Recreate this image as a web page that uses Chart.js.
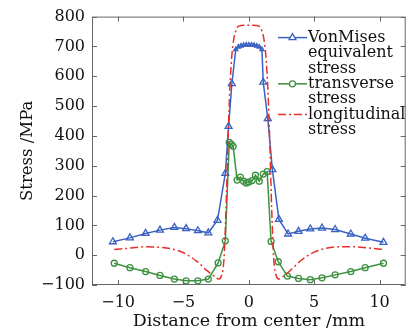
<!DOCTYPE html>
<html>
<head>
<meta charset="utf-8">
<script src="https://cdn.jsdelivr.net/npm/chart.js@4"></script>
<style>
  html, body { margin: 0; padding: 0; background: #fff; }
  #wrap { width: 411px; height: 334px; position: relative; }
</style>
</head>
<body>
<div id="wrap"><canvas id="stressChart"></canvas></div>
<script>
// values: distance (mm) and stress (MPa)
var vmX = [-10.4, -9.1, -7.9, -6.8, -5.7, -4.8, -3.9, -3.1, -2.4, -1.8, -1.55, -1.3, -1.0, -0.8, -0.6, -0.4, -0.2, 0, 0.2, 0.4, 0.6, 0.8, 1.0, 1.1, 1.45, 1.8, 2.3, 3.0, 3.8, 4.7, 5.6, 6.6, 7.8, 8.9, 10.3];
var vmY = [45, 58, 73, 84, 93, 89, 82, 75, 117, 274, 432, 575, 690, 698, 702, 704, 705, 705, 705, 704, 702, 698, 690, 580, 458, 287, 120, 71, 80, 88, 91, 86, 71, 57, 43];

var trX = [-10.3, -9.1, -7.9, -6.8, -5.7, -4.8, -3.9, -3.1, -2.35, -1.8, -1.5, -1.35, -1.2, -0.9, -0.65, -0.4, -0.2, 0, 0.25, 0.5, 0.8, 1.1, 1.4, 1.7, 2.25, 2.95, 3.8, 4.7, 5.6, 6.6, 7.8, 8.9, 10.3];
var trY = [-27, -42, -55, -68, -80, -86, -86, -80, -26, 48, 378, 372, 365, 252, 262, 248, 242, 245, 250, 268, 248, 272, 280, 46, -22, -70, -78, -82, -76, -66, -55, -42, -27];

var loX = [-10.3, -9, -8, -7, -6, -5, -4, -3.2, -2.6, -2.3, -2.1, -1.9, -1.75, -1.6, -1.45, -1.3, -1.15, -1.0, -0.85, -0.6, -0.3, 0, 0.3, 0.6, 0.85, 1.0, 1.15, 1.3, 1.45, 1.6, 1.75, 1.9, 2.1, 2.3, 2.6, 3.2, 4, 5, 6, 7, 8, 9, 10.3];
var loY = [19, 24, 28, 27, 22, 8, -20, -52, -72, -80, -70, -10, 150, 380, 560, 670, 725, 752, 766, 770, 771, 771, 771, 770, 766, 752, 725, 670, 560, 380, 150, -10, -70, -80, -72, -50, -17, 10, 24, 28, 28, 25, 19];

var xTicks = [-10, -5, 0, 5, 10];
var legendLines = [['VonMises', 'equivalent', 'stress'], ['transverse', 'stress'], ['longitudinal', 'stress']];

function pts(xs, ys) {
    return xs.map(function (x, i) { return { x: x, y: ys[i] }; });
}
function minus(v) {
    return String(v).replace('-', '\u2212');
}

Chart.defaults.font.family = '"DejaVu Serif", serif';
Chart.defaults.font.size = 16;
Chart.defaults.color = '#111';

// box round the plot with short inward ticks on all four sides
var framePlugin = {
    id: 'frame',
    afterDatasetsDraw: function (chart) {
        var ctx = chart.ctx, a = chart.chartArea;
        var xs = chart.scales.x, ys = chart.scales.y;
        ctx.save();
        ctx.strokeStyle = '#666';
        ctx.lineWidth = 1;
        ctx.setLineDash([]);
        ctx.strokeRect(a.left + 0.5, a.top + 0.5, a.right - a.left - 1, a.bottom - a.top - 1);
        ctx.beginPath();
        xs.ticks.forEach(function (t) {
            var px = Math.round(xs.getPixelForValue(t.value)) + 0.5;
            ctx.moveTo(px, a.bottom); ctx.lineTo(px, a.bottom - 5);
            ctx.moveTo(px, a.top); ctx.lineTo(px, a.top + 5);
        });
        ys.ticks.forEach(function (t) {
            var py = Math.round(ys.getPixelForValue(t.value)) + 0.5;
            ctx.moveTo(a.left, py); ctx.lineTo(a.left + 5, py);
            ctx.moveTo(a.right, py); ctx.lineTo(a.right - 5, py);
        });
        ctx.stroke();
        ctx.restore();
    }
};

// legend inside the plot, with wrapped labels
var legendPlugin = {
    id: 'sideLegend',
    afterDraw: function (chart) {
        var ctx = chart.ctx, a = chart.chartArea;
        var x0 = a.left + 186, tx = a.left + 216;
        var y = a.top + 21;
        ctx.save();
        ctx.font = '16px "DejaVu Serif", serif';
        ctx.textBaseline = 'middle';
        chart.data.datasets.forEach(function (ds, i) {
            ctx.strokeStyle = ds.borderColor;
            ctx.lineWidth = ds.borderWidth;
            ctx.setLineDash(ds.borderDash || []);
            ctx.beginPath();
            ctx.moveTo(x0, y);
            ctx.lineTo(x0 + 29, y);
            ctx.stroke();
            ctx.setLineDash([]);
            var mx = x0 + 14.5, r = ds.legendRadius;
            ctx.lineWidth = ds.pointBorderWidth || 1;
            if (ds.pointStyle === 'triangle') {
                ctx.beginPath();
                ctx.moveTo(mx, y - r);
                ctx.lineTo(mx + r * 0.866, y + r * 0.5);
                ctx.lineTo(mx - r * 0.866, y + r * 0.5);
                ctx.closePath();
                ctx.fillStyle = '#fff';
                ctx.fill();
                ctx.stroke();
            } else if (r > 0) {
                ctx.beginPath();
                ctx.arc(mx, y, r, 0, Math.PI * 2);
                ctx.fillStyle = '#fff';
                ctx.fill();
                ctx.stroke();
            }
            ctx.fillStyle = '#111';
            legendLines[i].forEach(function (line, k) {
                ctx.fillText(line, tx, y + k * 15.4);
            });
            y += legendLines[i].length * 15.4;
        });
        ctx.restore();
    }
};

new Chart(document.getElementById('stressChart').getContext('2d'), {
    type: 'line',
    data: {
        datasets: [{
            label: 'VonMises equivalent stress',
            data: pts(vmX, vmY),
            borderColor: '#3a62c2',
            borderWidth: 1.5,
            pointStyle: 'triangle',
            // the dense points on the plateau are drawn smaller
            pointRadius: function (c) {
                var p = c.raw;
                return p && Math.abs(p.x) <= 1 ? 2.4 : 4;
            },
            legendRadius: 4,
            pointBorderWidth: 1.3,
            pointBorderColor: '#3a62c2',
            pointBackgroundColor: 'rgba(255,255,255,0)',
            tension: 0,
            order: 1
        }, {
            label: 'transverse stress',
            data: pts(trX, trY),
            borderColor: '#3d9140',
            borderWidth: 1.5,
            pointStyle: 'circle',
            pointRadius: 3,
            legendRadius: 3,
            pointBorderWidth: 1.3,
            pointBorderColor: '#3d9140',
            pointBackgroundColor: 'rgba(255,255,255,0)',
            tension: 0,
            order: 2
        }, {
            label: 'longitudinal stress',
            data: pts(loX, loY),
            borderColor: '#e8302a',
            borderWidth: 1.5,
            borderDash: [8, 3, 2, 3],
            pointRadius: 0,
            legendRadius: 0,
            cubicInterpolationMode: 'monotone',
            order: 0
        }]
    },
    options: {
        responsive: true,
        maintainAspectRatio: false,
        animation: false,
        layout: { padding: { top: 16, right: 4, left: 0, bottom: 0 } },
        plugins: {
            legend: { display: false },
            tooltip: { enabled: false }
        },
        scales: {
            x: {
                type: 'linear',
                min: -12,
                max: 12,
                afterBuildTicks: function (s) {
                    s.ticks = xTicks.map(function (v) { return { value: v }; });
                },
                afterFit: function (s) { s.height = 49; },
                grid: { display: false, drawTicks: false },
                border: { display: false },
                ticks: { padding: 8, maxRotation: 0, callback: function (v) { return minus(v); } },
                title: { display: true, text: 'Distance from center /mm', font: { size: 17.5 }, padding: { top: 0, bottom: 2 } }
            },
            y: {
                min: -100,
                max: 800,
                afterFit: function (s) { s.width = 92; },
                grid: { display: false, drawTicks: false },
                border: { display: false },
                ticks: { stepSize: 100, padding: 7, callback: function (v) { return minus(v); } },
                title: { display: true, text: 'Stress /MPa', font: { size: 16.5 }, padding: { top: 18, bottom: 0 } }
            }
        }
    },
    plugins: [framePlugin, legendPlugin]
});
</script>
</body>
</html>
